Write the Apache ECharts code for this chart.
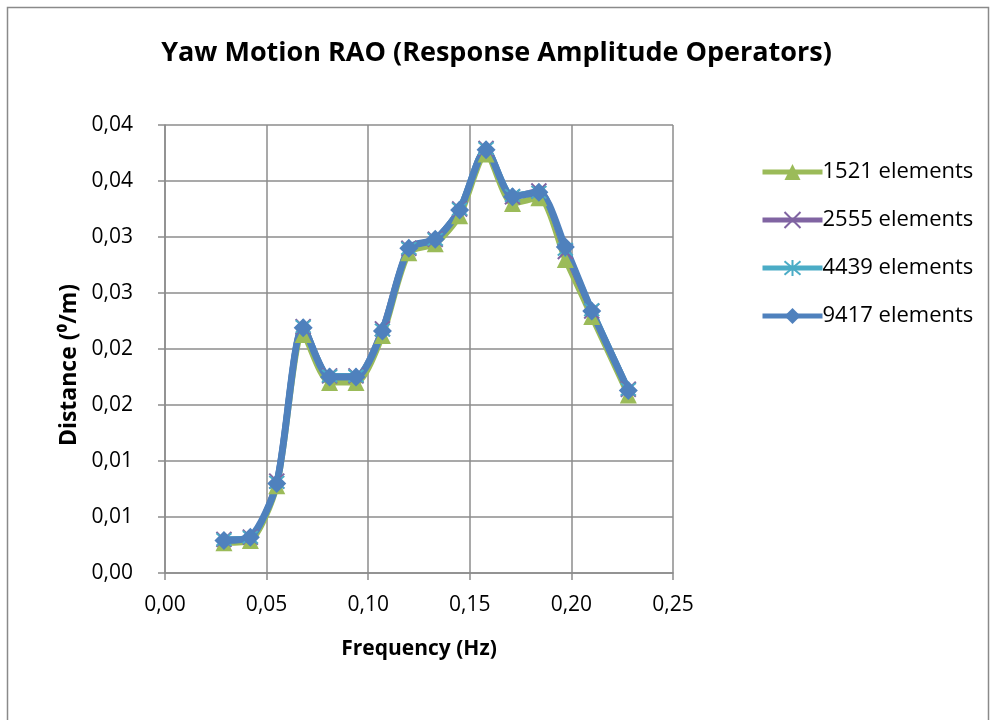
<!DOCTYPE html>
<html>
<head>
<meta charset="utf-8">
<script src="https://cdn.jsdelivr.net/npm/echarts@6/dist/echarts.min.js"></script>
<style>
  html, body { margin: 0; padding: 0; background: #fff; }
  #chart { width: 993px; height: 720px; }
</style>
</head>
<body>
<div id="chart"></div>
<script>
// frequencies (Hz)
const freq = [0.029, 0.042, 0.055, 0.068, 0.081, 0.094, 0.107, 0.120, 0.133, 0.145, 0.158, 0.171, 0.184, 0.197, 0.210, 0.228];
// yaw RAO per mesh
const el1521 = [0.0027, 0.0029, 0.0078, 0.0213, 0.0170, 0.0170, 0.0212, 0.0286, 0.0294, 0.0319, 0.0374, 0.0330, 0.0335, 0.0280, 0.0229, 0.0159];
const el2555 = [0.0030, 0.0032, 0.0082, 0.0220, 0.0176, 0.0176, 0.0218, 0.0290, 0.0298, 0.0325, 0.0379, 0.0336, 0.0341, 0.0287, 0.0234, 0.0164];
const el4439 = [0.0030, 0.0032, 0.0081, 0.0220, 0.0176, 0.0176, 0.0217, 0.0290, 0.0298, 0.0325, 0.0379, 0.0337, 0.0340, 0.0289, 0.0235, 0.0164];
const el9417 = [0.0029, 0.0032, 0.0080, 0.0219, 0.0175, 0.0175, 0.0216, 0.0290, 0.0298, 0.0324, 0.0378, 0.0336, 0.0340, 0.0291, 0.0234, 0.0163];
const names = ['1521 elements', '2555 elements', '4439 elements', '9417 elements'];

const FONT = '"Open Sans", sans-serif';
const gridColor = '#8c8c8c';

// comma decimal like the excel sheet
function fmt(v) {
  return (Math.round(v * 100 + 1e-6) / 100).toFixed(2).replace('.', ',');
}
function pairs(ys) {
  return freq.map((x, i) => [x, ys[i]]);
}

// marker shapes
const crossPath = 'path://M0,0L10,10M10,0L0,10';
const starPath = 'path://M0,0L10,10M10,0L0,10M5,-1L5,11';

function makeSeries(name, ys, color, symbol, size, width, stroke) {
  return {
    name: name,
    type: 'line',
    data: pairs(ys),
    smooth: 0.25,
    symbol: symbol,
    symbolSize: size,
    showAllSymbol: true,
    lineStyle: { color: color, width: width },
    itemStyle: stroke ? { color: color, borderColor: color, borderWidth: 2 } : { color: color, borderWidth: 0 },
    emphasis: { disabled: true },
    z: 2
  };
}

const chart = echarts.init(document.getElementById('chart'), null, { renderer: 'canvas' });
chart.setOption({
  animation: false,
  backgroundColor: '#fff',
  title: {
    text: 'Yaw Motion RAO (Response Amplitude Operators)',
    left: 'center',
    top: 35,
    textStyle: { fontFamily: FONT, fontWeight: 'bold', fontSize: 27, color: '#000' }
  },
  graphic: [{
    type: 'rect',
    shape: { x: 7.5, y: 7.5, width: 981, height: 720 },
    style: { fill: 'none', stroke: '#8a8a8a', lineWidth: 1.5 },
    silent: true
  }],
  legend: {
    orient: 'vertical',
    left: 755,
    top: 154,
    itemGap: 22,
    itemWidth: 60,
    itemHeight: 20,
    lineStyle: { width: 5 },
    textStyle: { fontFamily: FONT, fontSize: 22, lineHeight: 26, color: '#000', padding: [0, 0, 0, -5] },
    data: names
  },
  grid: { left: 165, right: 320, top: 125, bottom: 147 },
  xAxis: {
    type: 'value',
    min: 0,
    max: 0.25,
    interval: 0.05,
    name: 'Frequency (Hz)',
    nameLocation: 'middle',
    nameGap: 66,
    nameTextStyle: { fontFamily: FONT, fontWeight: 'bold', fontSize: 21, color: '#000' },
    axisLine: { lineStyle: { color: gridColor, width: 1.5 } },
    axisTick: { show: true, length: 7, lineStyle: { color: gridColor, width: 1.5 } },
    axisLabel: { formatter: fmt, fontFamily: FONT, fontSize: 21, color: '#000', margin: 22 },
    splitLine: { show: true, lineStyle: { color: gridColor, width: 1.5 } }
  },
  yAxis: {
    type: 'value',
    min: 0,
    max: 0.04,
    interval: 0.005,
    name: 'Distance (⁰/m)',
    nameLocation: 'middle',
    nameGap: 82,
    nameTextStyle: { fontFamily: FONT, fontWeight: 'bold', fontSize: 23, color: '#000', padding: [0, 32, 0, 0] },
    axisLine: { show: true, lineStyle: { color: gridColor, width: 1.5 } },
    axisTick: { show: true, length: 7, lineStyle: { color: gridColor, width: 1.5 } },
    axisLabel: { formatter: fmt, fontFamily: FONT, fontSize: 21, color: '#000', margin: 32 },
    splitLine: { show: true, lineStyle: { color: gridColor, width: 1.5 } }
  },
  series: [
    makeSeries(names[0], el1521, '#9BBB59', 'triangle', 17, 6, false),
    makeSeries(names[1], el2555, '#8064A2', crossPath, 15, 6, true),
    makeSeries(names[2], el4439, '#4BACC6', starPath, 15, 6, true),
    makeSeries(names[3], el9417, '#4F81BD', 'diamond', 19, 7, false)
  ]
});
</script>
</body>
</html>
